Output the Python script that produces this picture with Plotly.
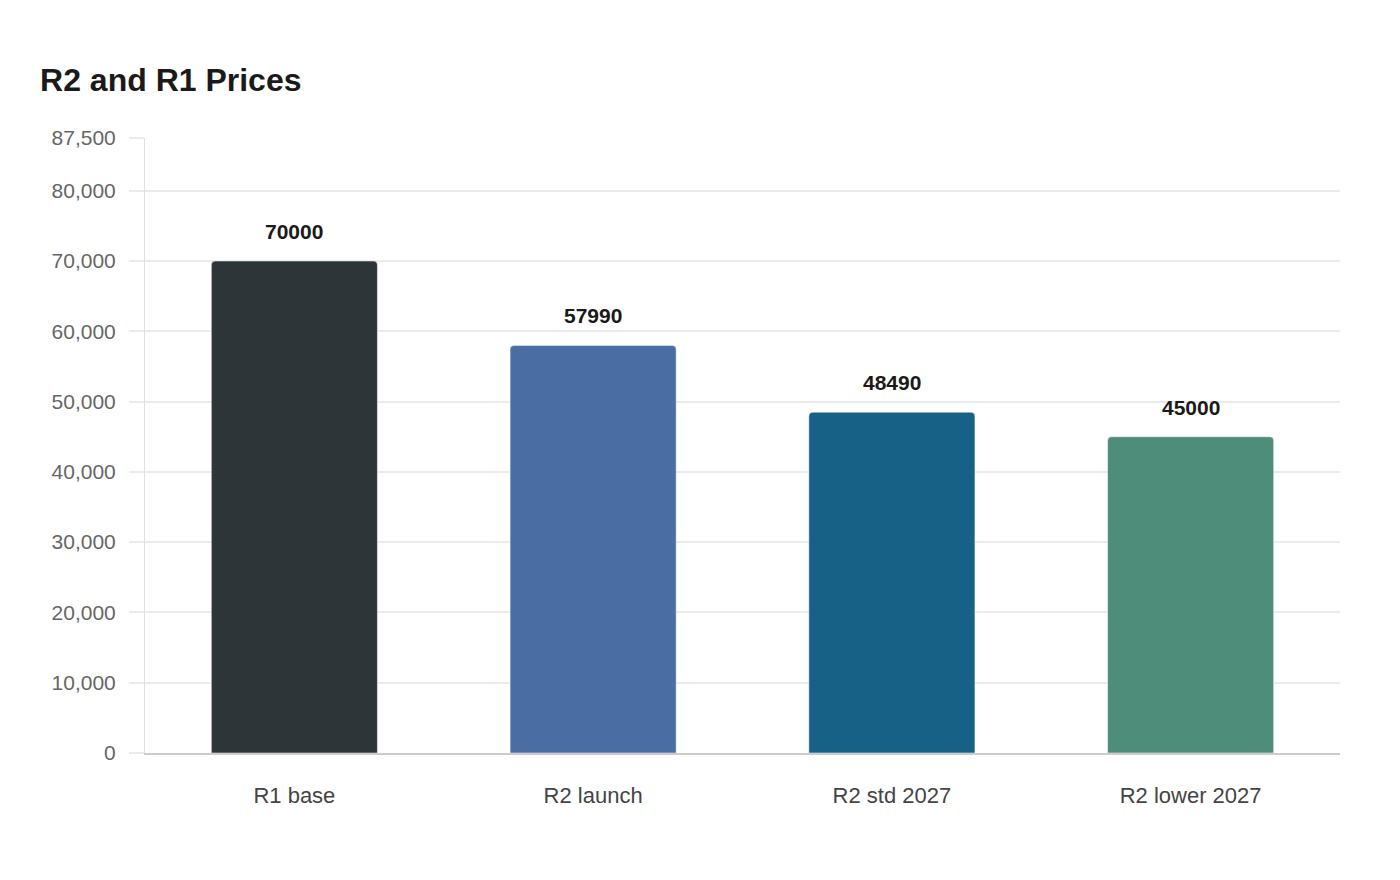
import plotly.graph_objects as go

# data
categories = ["R1 base", "R2 launch", "R2 std 2027", "R2 lower 2027"]
prices = [70000, 57990, 48490, 45000]
bar_colors = ["#2e3538", "#4a6ea3", "#186186", "#4f8d7b"]
tick_values = [0, 10000, 20000, 30000, 40000, 50000, 60000, 70000, 80000, 87500]
tick_labels = ["0", "10,000", "20,000", "30,000", "40,000", "50,000",
               "60,000", "70,000", "80,000", "87,500"]

fig = go.Figure(
    go.Bar(
        x=categories,
        y=prices,
        marker=dict(color=bar_colors, cornerradius=4,
                    line=dict(color="rgba(255,255,255,0.5)", width=1)),
        hoverinfo="x+y",
    )
)

# value labels above the bars
for cat, val in zip(categories, prices):
    fig.add_annotation(x=cat, y=val, text="<b>{}</b>".format(val),
                       showarrow=False, yanchor="bottom", yshift=16,
                       font=dict(size=21, color="#1a1a1a"))

fig.update_layout(
    width=1400, height=880,
    paper_bgcolor="white", plot_bgcolor="white",
    font=dict(family="Liberation Sans, Arial, sans-serif"),
    title=dict(text="<b>R2 and R1 Prices</b>", x=0.0229, xanchor="left",
               y=0.918, yanchor="middle",
               font=dict(size=32, color="#1a1a1a")),
    margin=dict(l=137, r=68, t=130, b=135),
    bargap=0.444,
    showlegend=False,
)

fig.update_xaxes(
    showgrid=False, showline=True, linecolor="#cccccc", linewidth=2,
    ticks="", tickfont=dict(size=22, color="#444444"), ticklabelstandoff=22,
)
fig.update_yaxes(
    range=[0, 87500], tickvals=tick_values, ticktext=tick_labels,
    showgrid=True, gridcolor="#ebebeb", gridwidth=1.5,
    showline=True, linecolor="#e0e0e0", linewidth=1,
    ticks="outside", ticklen=15, tickcolor="#ebebeb", tickwidth=1.5,
    ticklabelstandoff=9,
    tickfont=dict(size=21, color="#666666"), zeroline=False,
)

fig.write_html("out.html")
